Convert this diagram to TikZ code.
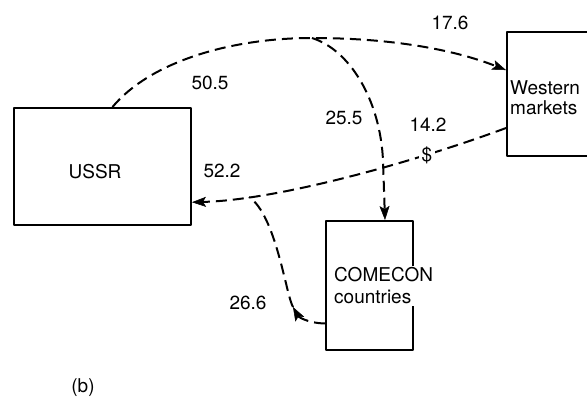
\documentclass[tikz,border=0pt]{standalone}
\usepackage{fontspec}
\setmainfont{TeX Gyre Heros}
\usetikzlibrary{positioning, calc, arrows.meta}

\begin{document}
\begin{tikzpicture}[%
    x=1pt, y=-1pt,       % pixel-like coordinates, y grows downwards
    >=Stealth,           % arrow tip style
    line join=round,
    box/.style={draw, rectangle, line width=2pt, inner sep=0pt},
    flow/.style={line width=2pt, dash pattern=on 11pt off 6pt},
    flowtip/.style={-{Stealth[length=14pt,width=10pt,inset=3pt,fill=black,line width=0.5pt]}},
    lbl/.style={font=\fontsize{19}{22}\selectfont, inner sep=1pt}
]
    \useasboundingbox (0,0) rectangle (587,400);

    % ==========================================
    % 1. Boxes (Nodes)
    % ==========================================
    \node[box, minimum width=177pt, minimum height=117pt] (ussr) at (102.5,166.5) {};
    \node[lbl] (ussrtxt) at (95,172) {USSR};

    \node[box, minimum width=110pt, minimum height=124pt] (wm) at (562,94) {};
    \node[lbl, anchor=west, align=left, font=\fontsize{19}{20}\selectfont] (wmtxt) at (509,98) {Western\\markets};

    \node[box, minimum width=87pt, minimum height=129pt] (com) at (369.5,285.5) {};

    % meeting points of the flows
    \coordinate (fork) at (312,38);
    \coordinate (jn) at (249,197);
    \coordinate (bend) at (293,307);

    % ==========================================
    % 2. Flows (dashed connectors)
    % ==========================================
    % USSR -> Western markets
    \draw[flow, flowtip] ([xshift=10pt]ussr.north)
        .. controls (150,62) and (230,38) .. (fork)
        .. controls (400,38) and (460,52) .. ($(wm.north west)!0.31!(wm.south west)$);
    % branch down to COMECON
    \draw[flow, flowtip] (fork) .. controls (350,50) and (380,100) .. (383,160)
        -- ([xshift=15.5pt]com.north);
    % Western markets -> USSR
    \draw[flow, flowtip] ($(wm.north west)!0.77!(wm.south west)$)
        .. controls (420,160) and (280,200) .. ($(ussr.north east)!0.80!(ussr.south east)$);
    % COMECON -> USSR (joins the line above)
    \draw[flow, flowtip] ($(com.north west)!0.79!(com.south west)$)
        .. controls (306,323) and (298,316) .. (bend);
    \draw[flow] (bend) .. controls (286,295) and (276,215) .. (jn);

    % text over the box border
    \node[lbl, fill=white, anchor=west, align=left, inner sep=2pt,
          font=\fontsize{19}{22}\selectfont] (comtxt) at (332,286) {COMECON\\countries};
    \node[lbl, fill=white, inner sep=3pt] (usd) at (427,155) {\$};

    % ==========================================
    % 3. Values
    % ==========================================
    \node[lbl] (v505) at (210,83) {50.5};
    \node[lbl] (v176) at (450,23) {17.6};
    \node[lbl] (v255) at (344,118) {25.5};
    \node[lbl] (v142) at (428,125) {14.2};
    \node[lbl] (v522) at (222,171) {52.2};
    \node[lbl] (v266) at (248,303) {26.6};
    \node[lbl] (panel) at (83,388) {(b)};

\end{tikzpicture}
\end{document}
